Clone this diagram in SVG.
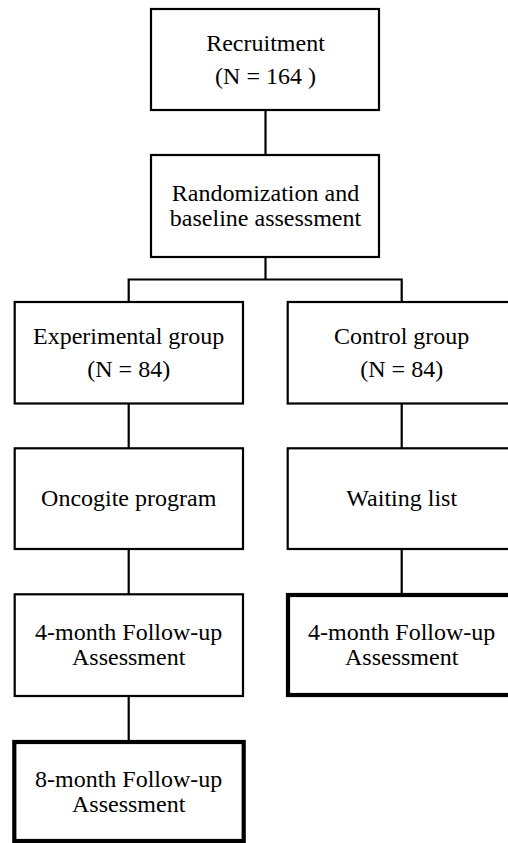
<svg xmlns="http://www.w3.org/2000/svg" width="508" height="843" viewBox="0 0 508 843">
<style>
.box{fill:#fff;stroke:#000;stroke-width:2.2}
.thick{fill:#fff;stroke:#000;stroke-width:4.2}
.lbl{font-family:"Liberation Serif","Times New Roman",serif;font-size:24px;fill:#000;text-anchor:middle}
.con{stroke:#000;stroke-width:2.2;fill:none}
</style>
<rect width="508" height="843" fill="#fff"/>
<g id="connectors">
<line class="con" x1="265.5" y1="110" x2="265.5" y2="155"/>
<line class="con" x1="265.5" y1="257" x2="265.5" y2="279.5"/>
<polyline class="con" points="128.7,302 128.7,279.5 401.7,279.5 401.7,302"/>
<line class="con" x1="128.7" y1="404" x2="128.7" y2="448"/>
<line class="con" x1="401.7" y1="404" x2="401.7" y2="448"/>
<line class="con" x1="128.7" y1="550" x2="128.7" y2="594"/>
<line class="con" x1="401.7" y1="550" x2="401.7" y2="595"/>
<line class="con" x1="128.7" y1="697" x2="128.7" y2="742"/>
</g>
<g id="recruitment">
<rect class="box" x="151" y="9" width="228" height="101"/>
<text class="lbl" x="265.5" y="51">Recruitment</text>
<text class="lbl" x="265.5" y="83.5">(N = 164 )</text>
</g>
<g id="randomization">
<rect class="box" x="151" y="155" width="228" height="102"/>
<text class="lbl" x="265.5" y="200.5">Randomization and</text>
<text class="lbl" x="265.5" y="225.5">baseline assessment</text>
</g>
<g id="experimental">
<rect class="box" x="14.7" y="302" width="228.3" height="101.5"/>
<text class="lbl" x="128.7" y="344">Experimental group</text>
<text class="lbl" x="128.7" y="376.5">(N = 84)</text>
</g>
<g id="control">
<rect class="box" x="287.7" y="302" width="228" height="101.5"/>
<text class="lbl" x="401.7" y="344">Control group</text>
<text class="lbl" x="401.7" y="376.5">(N = 84)</text>
</g>
<g id="oncogite">
<rect class="box" x="14.7" y="448.3" width="228.3" height="100.7"/>
<text class="lbl" x="128.7" y="506">Oncogite program</text>
</g>
<g id="waiting">
<rect class="box" x="287.7" y="448.3" width="228" height="100.7"/>
<text class="lbl" x="401.7" y="506">Waiting list</text>
</g>
<g id="followup4-exp">
<rect class="box" x="14.7" y="594.3" width="228.3" height="101.7"/>
<text class="lbl" x="128.7" y="640">4-month Follow-up</text>
<text class="lbl" x="128.7" y="665">Assessment</text>
</g>
<g id="followup4-ctrl">
<rect class="thick" x="288" y="595" width="228" height="100"/>
<text class="lbl" x="401.7" y="640">4-month Follow-up</text>
<text class="lbl" x="401.7" y="665">Assessment</text>
</g>
<g id="followup8-exp">
<rect class="thick" x="14.3" y="742" width="229.4" height="99"/>
<text class="lbl" x="128.7" y="786.7">8-month Follow-up</text>
<text class="lbl" x="128.7" y="811.7">Assessment</text>
</g>
</svg>
